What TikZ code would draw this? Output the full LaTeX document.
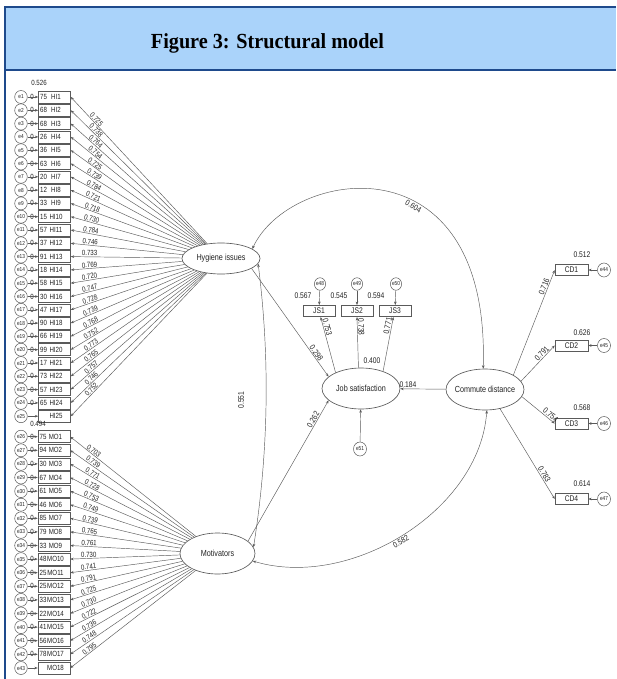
\documentclass[tikz,border=0pt]{standalone}
\usepackage{fontspec}
\newfontfamily\amos{Liberation Sans}[FakeStretch=0.82]
\newfontfamily\titlef{Liberation Serif}[FakeStretch=0.94]
\usetikzlibrary{arrows.meta,shapes.geometric}
\definecolor{hdrblue}{RGB}{170,211,250}
\definecolor{hdrdark}{RGB}{30,74,140}
\definecolor{ln}{RGB}{90,90,90}
\definecolor{tx}{RGB}{35,35,35}
\begin{document}
\begin{tikzpicture}[x=1pt,y=-1pt,
  arrowone/.style={-{Stealth[length=3.4pt,width=2.6pt]}},
  arrowtwo/.style={{Stealth[length=3.4pt,width=2.6pt]}-{Stealth[length=3.4pt,width=2.6pt]}},
  conn/.style={draw=ln,line width=0.45pt},
  ind/.style={draw=ln,line width=0.55pt,minimum width=32pt,minimum height=12pt,inner sep=0pt,text=tx},
  err/.style={ellipse,draw=ln,line width=0.5pt,minimum width=12.6pt,minimum height=13pt,inner sep=0pt,text=tx,font=\amos\fontsize{5.8}{6}\selectfont},
  lat/.style={ellipse,draw=ln,line width=0.65pt,inner xsep=-12pt,inner ysep=0pt,text=tx,font=\amos\fontsize{8.8}{10}\selectfont},
  sm/.style={font=\amos\fontsize{7.5}{8}\selectfont,inner sep=0.6pt,text=tx},
  md/.style={font=\amos\fontsize{8.2}{9}\selectfont,inner sep=0.8pt,text=tx},
]
\useasboundingbox (0,0) rectangle (616,679);
\fill[white] (0,0) rectangle (616,679);
% header
\fill[hdrblue] (5,7) rectangle (616,70);
\draw[hdrdark,line width=2pt] (616,7) -- (4.7,7) -- (4.7,679);
\draw[hdrdark,line width=2.6pt] (4.7,70) -- (616,70);
\node[font=\titlef\bfseries\fontsize{21.5}{24}\selectfont,text=black] (title) at (267.5,43) {Figure 3: Structural model};

% latent variables
\node[lat,minimum width=78pt,minimum height=31pt] (hyg) at (221,258.5) {Hygiene issues};
\node[lat,minimum width=75pt,minimum height=41pt] (mot) at (217.5,553.5) {Motivators};
\node[lat,minimum width=78pt,minimum height=41pt] (js) at (361,388.5) {Job satisfaction};
\node[lat,minimum width=78pt,minimum height=41pt] (cd) at (485,389.5) {Commute distance};

% Hygiene items
\foreach \i/\d/\l in {1/75/0.725,2/68/0.738,3/68/0.764,4/26/0.754,5/36/0.725,6/63/0.739,7/20/0.784,8/12/0.721,9/33/0.718,10/15/0.730,11/57/0.784,12/37/0.746,13/91/0.733,14/18/0.769,15/58/0.720,16/30/0.747,17/47/0.728,18/90/0.739,19/66/0.768,20/99/0.752,21/17/0.773,22/73/0.765,23/57/0.757,24/65/0.746}{
  \pgfmathsetmacro\yy{97+(\i-1)*13.3}
  \node[ind] (hi\i) at (54.5,\yy) {};
  \node[err] (e\i) at (21,\yy) {e\i};
  \node[sm] (hz\i) at (32,\yy) {0};
  \node[sm,anchor=east] (hd\i) at (47.8,\yy) {\d};
  \node[sm] (hl\i) at (56,\yy) {HI\i};
  \draw[conn,arrowone] (e\i) -- (hi\i);
  \draw[conn,arrowone] (hyg) -- node[sm,pos=0.83,sloped,above=0pt]{\l} (hi\i.east);
}
\node[ind] (hi25) at (54.5,416.2) {};
\node[err] (e25) at (21,416.2) {e25};
\node[sm] (hl25) at (56,416.2) {HI25};
\draw[conn,arrowone] (e25) -- (hi25);
\draw[conn,arrowone] (hyg) -- node[sm,pos=0.83,sloped,above=0pt]{0.752} (hi25.east);
\node[sm] (r1) at (39,83) {0.526};
\node[sm] (r25) at (38,423.5) {0.494};

% Motivator items
\foreach \j/\d/\l in {1/75/0.703,2/94/0.739,3/30/0.771,4/67/0.728,5/61/0.753,6/46/0.749,7/85/0.739,8/79/0.765,9/33/0.761,10/48/0.730,11/25/0.741,12/25/0.791,13/33/0.725,14/22/0.730,15/41/0.722,16/56/0.736,17/78/0.748}{
  \pgfmathsetmacro\yy{436.7+(\j-1)*13.6}
  \pgfmathtruncatemacro\ee{\j+25}
  \node[ind] (mo\j) at (54,\yy) {};
  \node[err] (e\ee) at (21,\yy) {e\ee};
  \node[sm] (mz\j) at (32,\yy) {0};
  \node[sm,anchor=east] (md\j) at (47.3,\yy) {\d};
  \node[sm] (ml\j) at (55.5,\yy) {MO\j};
  \draw[conn,arrowone] (e\ee) -- (mo\j);
  \draw[conn,arrowone] (mot) -- node[sm,pos=0.83,sloped,above=0pt]{\l} (mo\j.east);
}
\node[ind] (mo18) at (54,668) {};
\node[err] (e43) at (21,668) {e43};
\node[sm] (ml18) at (55.5,668) {MO18};
\draw[conn,arrowone] (e43) -- (mo18);
\draw[conn,arrowone] (mot) -- node[sm,pos=0.83,sloped,above=0pt]{0.795} (mo18.east);

% Job satisfaction indicators
\node[ind,minimum height=11.5pt,md] (js1) at (319,311) {JS1};
\node[ind,minimum height=11.5pt,md] (js2) at (357,311) {JS2};
\node[ind,minimum height=11.5pt,md] (js3) at (395,311) {JS3};
\node[err,minimum width=11pt,minimum height=12.5pt] (e48) at (320,284) {e48};
\node[err,minimum width=11pt,minimum height=12.5pt] (e49) at (357,284) {e49};
\node[err,minimum width=11pt,minimum height=12.5pt] (e50) at (396,284) {e50};
\draw[conn,arrowone] (e48) -- (js1);
\draw[conn,arrowone] (e49) -- (js2);
\draw[conn,arrowone] (e50) -- (js3);
\node[md] (r48) at (303,296) {0.567};
\node[md] (r49) at (339,296) {0.545};
\node[md] (r50) at (376,296) {0.594};
\draw[conn,arrowone] (js.148) -- node[md,pos=0.8,sloped,above=0pt]{0.753} (js1.-75);
\draw[conn,arrowone] (js.97) -- node[md,pos=0.8,sloped,above=0pt]{0.738} (js2.south);
\draw[conn,arrowone] (js.38) -- node[md,pos=0.82,sloped,above=0pt]{0.771} (js3.-105);
\node[md] (rjs) at (372,361) {0.400};
\node[err,minimum width=13pt,minimum height=14pt] (e51) at (360,449) {e51};
\draw[conn,arrowone] (e51) -- (js);

% structural paths
\draw[conn,arrowone] (cd) -- node[md,pos=0.83,above=0pt]{0.184} (js);
\draw[conn,arrowone] (hyg.-18) -- node[md,pos=0.8,sloped,above=0pt]{0.298} (js.160);
\draw[conn,arrowone] (mot.22) -- node[md,pos=0.85,sloped,above=0pt]{0.262} (js.200);

% covariances
\draw[conn,arrowtwo] (hyg.-8) .. controls +(12,95) and +(15,-95) .. (mot.10);
\node[md,rotate=90] (l551) at (241,400) {0.551};
\draw[conn,arrowtwo] (hyg.17) .. controls +(37,-80) and +(7,-234) .. (cd.95)
  node[md,pos=0.6,sloped,below=0.5pt]{0.604};
\draw[conn,arrowtwo] (cd.-85) .. controls +(-7,100) and +(98,29) .. (mot.-12)
  node[md,pos=0.52,sloped,below=1pt]{0.582};

% Commute distance indicators
\node[ind,minimum width=33pt,minimum height=11pt,md] (cd1) at (571.5,270) {CD1};
\node[ind,minimum width=33pt,minimum height=11pt,md] (cd2) at (571.5,345.5) {CD2};
\node[ind,minimum width=33pt,minimum height=11pt,md] (cd3) at (571.5,423.5) {CD3};
\node[ind,minimum width=33pt,minimum height=11pt,md] (cd4) at (571.5,499) {CD4};
\node[err,minimum width=13pt,minimum height=14pt] (e44) at (604,270) {e44};
\node[err,minimum width=13pt,minimum height=14pt] (e45) at (604,345.5) {e45};
\node[err,minimum width=13pt,minimum height=14pt] (e46) at (604,423.5) {e46};
\node[err,minimum width=13pt,minimum height=14pt] (e47) at (604,499) {e47};
\draw[conn,arrowone] (e44) -- (cd1);
\draw[conn,arrowone] (e45) -- (cd2);
\draw[conn,arrowone] (e46) -- (cd3);
\draw[conn,arrowone] (e47) -- (cd4);
\node[md] (r44) at (582,255) {0.512};
\node[md] (r45) at (582,332.7) {0.626};
\node[md] (r46) at (582,408) {0.568};
\node[md] (r47) at (582,484) {0.614};
\draw[conn,arrowone] (cd.27) -- node[md,pos=0.83,sloped,above=0pt]{0.716} (cd1.west);
\draw[conn,arrowone] (cd.13) -- node[md,pos=0.7,sloped,above=0pt]{0.791} (cd2.west);
\draw[conn,arrowone] (cd.-11) -- node[md,pos=0.8,sloped,above=0pt]{0.754} (cd3.west);
\draw[conn,arrowone] (cd.-52) -- node[md,pos=0.75,sloped,above=0pt]{0.783} (cd4.west);
\end{tikzpicture}
\end{document}
